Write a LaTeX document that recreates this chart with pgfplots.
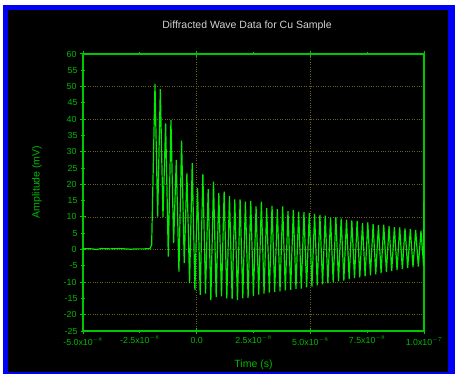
\documentclass[border=0pt]{standalone}
\usepackage{pgfplots}
\pgfplotsset{compat=1.18}
\usepackage{fontspec}
\setmainfont{Liberation Sans}
\definecolor{axgreen}{RGB}{0,200,0}
\definecolor{lblgreen}{RGB}{0,185,0}
\definecolor{datagreen}{RGB}{0,235,0}
\definecolor{gridc}{RGB}{110,100,20}
\definecolor{titlegray}{RGB}{210,210,210}
\definecolor{frameblue}{RGB}{0,0,245}
\begin{document}
\begin{tikzpicture}[x=1pt,y=1pt]
\fill[white] (0,0) rectangle (455,-374);
\fill[frameblue] (3,-5) rectangle (455,-374);
\fill[black] (8,-10) rectangle (448,-372);
\begin{axis}[
  at={(83pt,-331pt)}, anchor=south west,
  scale only axis, width=341pt, height=277pt,
  xmin=-5, xmax=10, ymin=-25, ymax=60,
  axis line style={axgreen, line width=1.2pt},
  every tick/.style={axgreen, line width=1pt},
  tick align=center, major tick length=6pt,
  xtick pos=both, ytick pos=left,
  xtick={-5,0,5,10},
  xticklabels={{-5.0x10$^{-8}$},{0.0},{5.0x10$^{-8}$},{1.0x10$^{-7}$}},
  extra x ticks={-2.5,2.5,7.5},
  extra x tick labels={{-2.5x10$^{-8}$},{2.5x10$^{-8}$},{7.5x10$^{-8}$}},
  extra x tick style={major tick length=3pt, grid=none},
  ytick={-20,-10,...,60},
  extra y ticks={-25,-15,...,55},
  extra y tick style={major tick length=4pt, grid=none},
  /pgf/number format/assume math mode=true,
  ymajorgrids, xmajorgrids,
  major grid style={gridc, dotted, line width=0.6pt},
  tick label style={lblgreen, font=\fontsize{8.8}{10}\selectfont},
  title={Diffracted Wave Data for Cu Sample},
  title style={titlegray, font=\fontsize{10.5}{12}\selectfont, at={(axis description cs:0.481,1)}, anchor=center, yshift=22pt},
  xlabel={Time (s)},
  xlabel style={lblgreen, font=\fontsize{10.5}{12}\selectfont, at={(axis description cs:0.5,0)}, anchor=center, yshift=-34pt},
  ylabel={Amplitude (mV)},
  ylabel style={lblgreen, font=\fontsize{10.5}{12}\selectfont, at={(axis description cs:-0.135,0.538)}, anchor=center},
]
\addplot[datagreen, line width=1.2pt] coordinates {
(-5,0.3) (-4.6,0.2) (-4.4,0.0) (-4.2,0.3) (-3.8,0.2) (-3.4,0.3) (-2.9,0.1) (-2.6,0.2) (-2.3,0.2) (-2.05,0.3) (-1.98,1.5)
(-1.833,50.8) (-1.716,10.1)
(-1.599,49.2) (-1.482,10.0)
(-1.365,38.7) (-1.248,-2.2)
(-1.131,39.7) (-1.014,2.0)
(-0.897,27.5) (-0.780,-6.8)
(-0.663,33.4) (-0.546,-4.2)
(-0.429,23.4) (-0.312,-10.3)
(-0.195,26.5) (-0.078,-12.4)
(0.039,18.8) (0.156,-13.9)
(0.273,23.2) (0.390,-13.5)
(0.507,18.5) (0.624,-15.5)
(0.741,20.8) (0.858,-14.5)
(0.975,17.3) (1.092,-14.4)
(1.209,17.8) (1.326,-15.0)
(1.443,16.4) (1.560,-15.2)
(1.677,15.4) (1.794,-15.5)
(1.911,15.4) (2.028,-15.0)
(2.145,14.7) (2.262,-14.8)
(2.379,14.9) (2.496,-14.2)
(2.613,13.2) (2.730,-13.8)
(2.847,14.7) (2.964,-13.5)
(3.081,12.7) (3.198,-13.2)
(3.315,13.4) (3.432,-13.0)
(3.549,12.4) (3.666,-12.8)
(3.783,13.2) (3.900,-12.5)
(4.017,11.8) (4.134,-12.4)
(4.251,12.2) (4.368,-12.1)
(4.485,11.6) (4.602,-12.0)
(4.719,11.5) (4.836,-11.6)
(4.953,11.2) (5.070,-11.4)
(5.187,10.9) (5.304,-11.0)
(5.421,10.6) (5.538,-10.7)
(5.655,10.4) (5.772,-10.4)
(5.889,9.8) (6.006,-10.1)
(6.123,9.9) (6.240,-9.8)
(6.357,9.5) (6.474,-9.5)
(6.591,9.2) (6.708,-9.1)
(6.825,8.9) (6.942,-8.8)
(7.059,8.8) (7.176,-8.5)
(7.293,8.1) (7.410,-8.2)
(7.527,8.3) (7.644,-7.9)
(7.761,7.8) (7.878,-7.6)
(7.995,7.5) (8.112,-7.2)
(8.229,7.6) (8.346,-6.9)
(8.463,7.2) (8.580,-6.6)
(8.697,6.9) (8.814,-6.3)
(8.931,6.8) (9.048,-6.0)
(9.165,6.5) (9.282,-5.7)
(9.399,6.3) (9.516,-5.4)
(9.633,6.0) (9.750,-5.2)
(9.867,5.8) (9.984,-5.0)
(10.0,14.6)
};
\end{axis}
\end{tikzpicture}
\end{document}
